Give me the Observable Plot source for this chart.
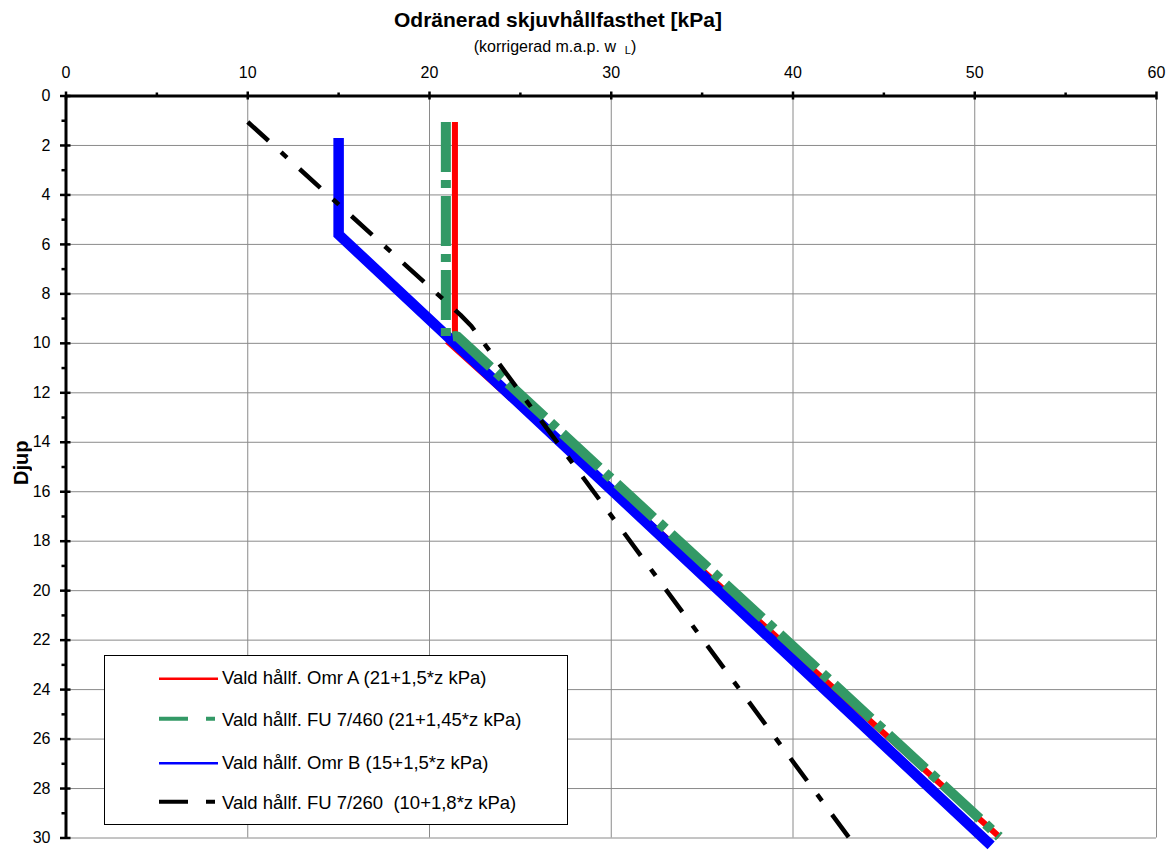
<!DOCTYPE html>
<html>
<head>
<meta charset="utf-8">
<script src="https://cdn.jsdelivr.net/npm/d3@7"></script>
<script src="https://cdn.jsdelivr.net/npm/@observablehq/plot@0.6"></script>
<style>
  body { margin: 0; background: #fff; font-family: "Liberation Sans", Arial, sans-serif; color: #000; }
  #wrap { position: relative; width: 1168px; height: 852px; overflow: hidden; background: #fff; }
  #wrap svg { display: block; }
  .title { position: absolute; left: 0; width: 1116px; text-align: center; font-weight: bold; font-size: 21px; line-height: 21px; top: 9px; white-space: pre; }
  .subtitle { position: absolute; left: 0; width: 1110px; text-align: center; font-size: 16px; line-height: 16px; top: 38.5px; white-space: pre; }
  .ylab { position: absolute; left: 10px; top: 441px; width: 22px; height: 44px; font-weight: bold; font-size: 20px; line-height: 22px; writing-mode: vertical-rl; transform: rotate(180deg); text-align: center; }
  #legend { position: absolute; left: 104px; top: 655px; width: 464px; height: 170px; box-sizing: border-box; border: 1px solid #000; background: #fff; }
  #legend .row-text { position: absolute; left: 117px; font-size: 18.5px; line-height: 18.5px; white-space: pre; }
  #legend svg { position: absolute; left: 0; top: 0; }
</style>
</head>
<body>
<div id="wrap"></div>
<script>
// ---- data ----
const xTicks = [0, 10, 20, 30, 40, 50, 60];
const xMinorTicks = [5, 15, 25, 35, 45, 55];
const yTicks = [0, 2, 4, 6, 8, 10, 12, 14, 16, 18, 20, 22, 24, 26, 28, 30];
const yMinorTicks = [1, 3, 5, 7, 9, 11, 13, 15, 17, 19, 21, 23, 25, 27, 29];

const titleText = "Odränerad skjuvhållfasthet [kPa]";
const subtitleText = "(korrigerad m.a.p. w  ";
const subtitleSub = "L";
const yLabelText = "Djup";

const seriesNames = [
  "Vald hållf. Omr A (21+1,5*z kPa)",
  "Vald hållf. FU 7/460 (21+1,45*z kPa)",
  "Vald hållf. Omr B (15+1,5*z kPa)",
  "Vald hållf. FU 7/260  (10+1,8*z kPa)"
];
const seriesColors = ["#ff0000", "#339966", "#0000ff", "#000000"];

// Omr A (red)
const redValue = [21.4, 21.4, 21.1, 51.35];
const redDepth = [1.05, 9.8, 10.0, 29.95];
// FU 7/460 (green, dashed)
const greenValue = [20.9, 20.9, 21.5, 51.35];
const greenDepth = [1.05, 9.75, 9.7, 29.95];
// Omr B (blue)
const blueValue = [15.0, 15.0, 50.9];
const blueDepth = [1.7, 5.6, 30.3];
// FU 7/260 (black, dash-dot)
const blackValue = [10.0, 21.7, 22.3, 22.9, 43.1];
const blackDepth = [1.05, 8.85, 9.3, 9.9, 30.0];

// ---- build ----
const rows = (vals, deps) => vals.map((v, i) => ({value: v, depth: deps[i]}));
const redRows = rows(redValue, redDepth);
const greenRows = rows(greenValue, greenDepth);
const blueRows = rows(blueValue, blueDepth);
const blackRows = rows(blackValue, blackDepth);

const gridColor = "#8a8a8a";

const chart = Plot.plot({
  width: 1168,
  height: 852,
  marginLeft: 65.5,
  marginRight: 12,
  marginTop: 95.5,
  marginBottom: 14.5,
  style: {fontFamily: '"Liberation Sans", Arial, sans-serif', fontSize: "16px", color: "#000", background: "transparent", overflow: "visible"},
  x: {domain: [0, 60]},
  y: {domain: [0, 30], reverse: true},
  marks: [
    Plot.gridX(xTicks.slice(1), {stroke: gridColor, strokeOpacity: 1, strokeWidth: 1}),
    Plot.gridY(yTicks.slice(1), {stroke: gridColor, strokeOpacity: 1, strokeWidth: 1}),
    Plot.line(redRows, {x: "value", y: "depth", stroke: seriesColors[0], strokeWidth: 6, strokeLinecap: "butt", strokeLinejoin: "miter", strokeMiterlimit: 4}),
    Plot.line(blueRows, {x: "value", y: "depth", stroke: seriesColors[2], strokeWidth: 10.5, strokeLinecap: "butt", strokeLinejoin: "miter", strokeMiterlimit: 4}),
    Plot.line(greenRows, {x: "value", y: "depth", stroke: seriesColors[1], strokeWidth: 10, strokeLinecap: "butt", strokeLinejoin: "bevel", strokeDasharray: "50,8,8,8"}),
    Plot.line(blackRows, {x: "value", y: "depth", stroke: seriesColors[3], strokeWidth: 4.5, strokeLinecap: "butt", strokeLinejoin: "round", strokeDasharray: "28,17,8,17"}),
    Plot.ruleY([0], {stroke: "#000", strokeWidth: 3}),
    Plot.ruleX([0], {stroke: "#000", strokeWidth: 3}),
    Plot.axisX(xTicks, {anchor: "top", tickSize: 8, dy: 3, strokeWidth: 2.5, fill: "none", label: null}),
    Plot.axisX(xMinorTicks, {anchor: "top", tickSize: 4, strokeWidth: 2.5, fill: "none", label: null}),
    Plot.axisX(xTicks, {anchor: "top", tickSize: 0, tickPadding: 18, fontSize: 16, label: null}),
    Plot.axisY(yTicks, {anchor: "left", tickSize: 10.5, dx: 5, strokeWidth: 2.5, fill: "none", label: null}),
    Plot.axisY(yMinorTicks, {anchor: "left", tickSize: 4, strokeWidth: 2.5, fill: "none", label: null}),
    Plot.axisY(yTicks, {anchor: "left", tickSize: 0, tickPadding: 15.5, fontSize: 16, label: null})
  ]
});

const wrap = document.getElementById("wrap");
wrap.appendChild(chart);

const t = document.createElement("div");
t.className = "title";
t.textContent = titleText;
wrap.appendChild(t);

const st = document.createElement("div");
st.className = "subtitle";
st.appendChild(document.createTextNode(subtitleText));
const sub = document.createElement("span");
sub.textContent = subtitleSub;
sub.style.fontSize = "11px";
sub.style.position = "relative";
sub.style.top = "2px";
st.appendChild(sub);
st.appendChild(document.createTextNode(")"));
wrap.appendChild(st);

const yl = document.createElement("div");
yl.className = "ylab";
yl.textContent = yLabelText;
wrap.appendChild(yl);

// legend
const legend = document.createElement("div");
legend.id = "legend";
const swatchY = [22.7, 62.7, 107.3, 145.7];
const textTop = [12.6, 55.3, 97.6, 137.6];
const swatchStyles = [
  {w: 2.5, dash: null},
  {w: 4, dash: "29,18,9,100"},
  {w: 2.5, dash: null},
  {w: 4, dash: "29,18,9,100"}
];
const ns = "http://www.w3.org/2000/svg";
const lsvg = document.createElementNS(ns, "svg");
lsvg.setAttribute("width", 462);
lsvg.setAttribute("height", 168);
seriesNames.forEach((name, i) => {
  const ln = document.createElementNS(ns, "line");
  ln.setAttribute("x1", 54);
  ln.setAttribute("x2", swatchStyles[i].dash ? 110 : 113);
  ln.setAttribute("y1", swatchY[i]);
  ln.setAttribute("y2", swatchY[i]);
  ln.setAttribute("stroke", seriesColors[i]);
  ln.setAttribute("stroke-width", swatchStyles[i].w);
  if (swatchStyles[i].dash) ln.setAttribute("stroke-dasharray", swatchStyles[i].dash);
  lsvg.appendChild(ln);
});
legend.appendChild(lsvg);
seriesNames.forEach((name, i) => {
  const d = document.createElement("div");
  d.className = "row-text";
  d.style.top = textTop[i] + "px";
  d.textContent = name;
  legend.appendChild(d);
});
wrap.appendChild(legend);
</script>
</body>
</html>
